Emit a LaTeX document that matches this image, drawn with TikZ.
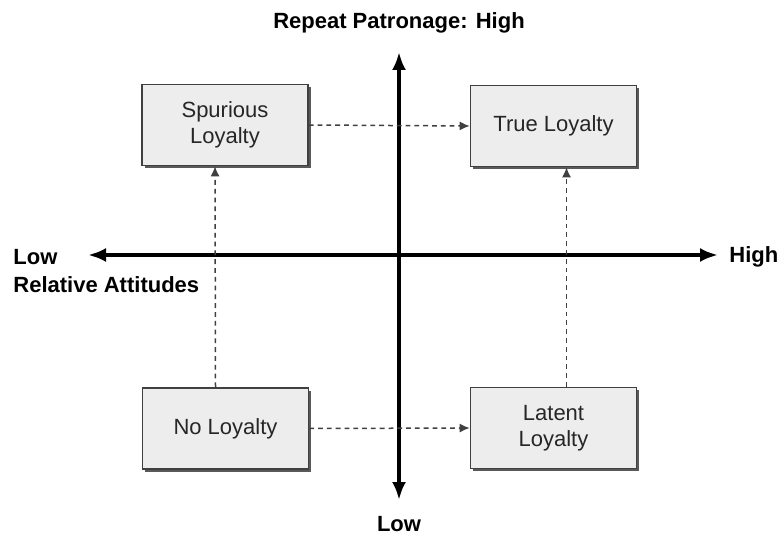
\documentclass[tikz,border=0pt]{standalone}
\usepackage{fontspec}
\setmainfont{Liberation Sans}
\usetikzlibrary{arrows.meta,shadows}
\tikzset{
  quadbox/.style={draw=black!75, line width=0.8pt, fill=black!7,
    minimum width=83pt, minimum height=40.5pt, align=center,
    font=\fontsize{11}{13}\selectfont, text=black!85,
    drop shadow={shadow xshift=1.3pt, shadow yshift=-1.3pt, fill=black!65, opacity=1}},
  axis/.style={line width=2pt, {Latex[length=9pt,width=7pt]}-{Latex[length=9pt,width=7pt]}},
  move/.style={dashed, dash pattern=on 2.4pt off 2pt, draw=black!75, line width=0.75pt,
    -{Latex[length=5pt,width=4.5pt]}},
  axlabel/.style={font=\bfseries\fontsize{11}{13}\selectfont, inner sep=1pt}
}
\begin{document}
\begin{tikzpicture}[x=0.5pt,y=0.5pt]
  \useasboundingbox (0,0) rectangle (779,541);
  % axes
  \coordinate (top) at (399,489);
  \coordinate (bottom) at (399,41);
  \coordinate (left) at (88,286);
  \coordinate (right) at (718,286);
  \draw[axis] (bottom) -- (top);
  \draw[axis] (left) -- (right);
  % axis labels
  \node[axlabel] (high-y) at (399,518) {Repeat Patronage: High};
  \node[axlabel] (low-y) at (399,17) {Low};
  \node[axlabel, anchor=west] (high-x) at (727,284) {High};
  \node[axlabel, anchor=west] (low-x) at (11,284) {Low};
  \node[axlabel, anchor=west] (attit) at (11,256) {Relative Attitudes};
  % quadrants
  \node[quadbox] (spur) at (225,416) {Spurious\\Loyalty};
  \node[quadbox] (true) at (553.5,415) {True Loyalty};
  \node[quadbox] (none) at (225.5,112.5) {No Loyalty};
  \node[quadbox] (latent) at (553.5,113) {Latent\\Loyalty};
  % moves
  \draw[move] (spur.east) -- (true.west);
  \draw[move] (none.east) -- (latent.west);
  \draw[move] ([xshift=-5pt]none.north) -- ([xshift=-5pt]spur.south);
  \draw[move] ([xshift=6.5pt]latent.north) -- ([xshift=6.5pt]true.south);
\end{tikzpicture}
\end{document}
